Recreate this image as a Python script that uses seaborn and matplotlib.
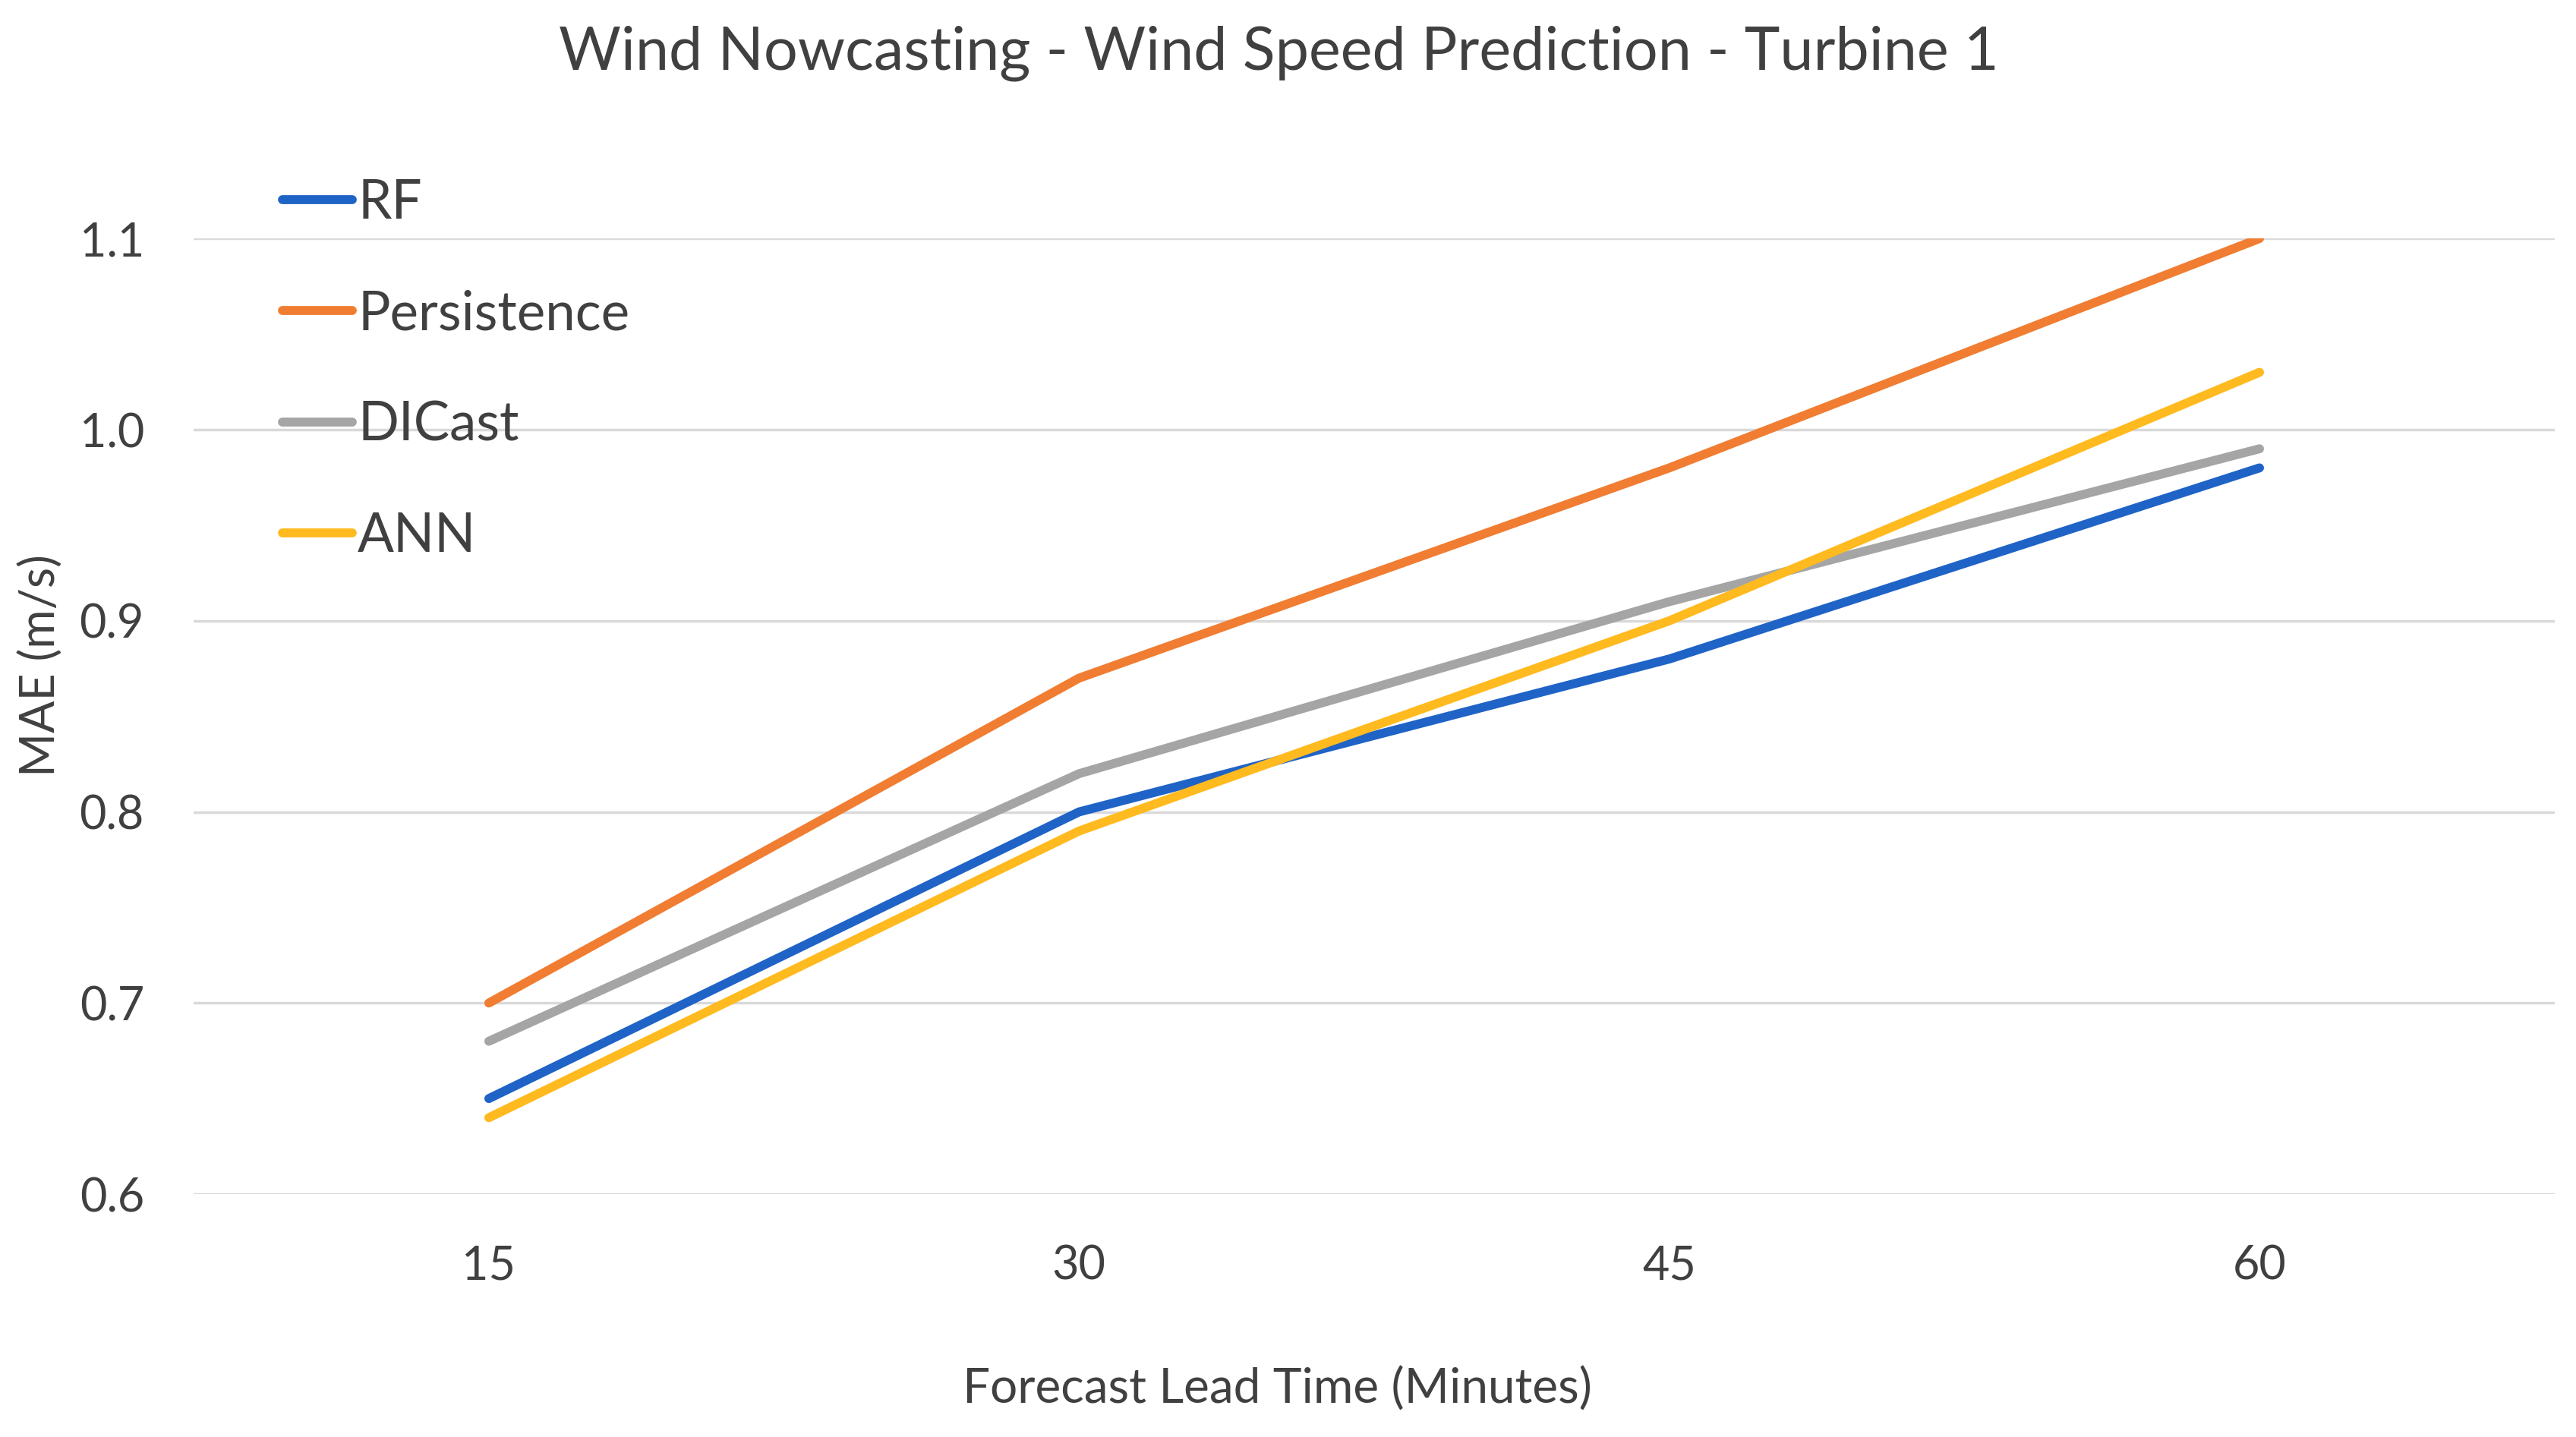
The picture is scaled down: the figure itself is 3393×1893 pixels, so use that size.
import pandas as pd
import matplotlib.pyplot as plt
import seaborn as sns

lead_times = ["15", "30", "45", "60"]
rf = [0.65, 0.80, 0.88, 0.98]
persistence = [0.70, 0.87, 0.98, 1.10]
dicast = [0.68, 0.82, 0.91, 0.99]
ann = [0.64, 0.79, 0.90, 1.03]
y_ticks = [0.6, 0.7, 0.8, 0.9, 1.0, 1.1]

models = ["RF", "Persistence", "DICast", "ANN"]
colors = ["#1F63C6", "#F07D32", "#A5A5A5", "#FFBA1F"]

rows = []
for name, vals in zip(models, [rf, persistence, dicast, ann]):
    for t, v in zip(lead_times, vals):
        rows.append({"Lead": t, "MAE": v, "Model": name})
df = pd.DataFrame(rows)

sns.set_theme(style="white")
plt.rcParams["font.family"] = ["Lato", "DejaVu Sans"]
text_col = "#404040"

fig = plt.figure(figsize=(33.93, 18.93), dpi=100)
ax = fig.add_axes([0.0752, 0.169, 0.9165, 0.665])

sns.lineplot(data=df, x="Lead", y="MAE", hue="Model", hue_order=models,
             palette=colors, linewidth=8.5, sort=False, ax=ax,
             solid_capstyle="round", legend=False)

ax.set_xlim(-0.5, 3.5)
ax.set_ylim(0.6, 1.1)
ax.set_yticks(y_ticks)
ax.set_yticklabels([f"{v:.1f}" for v in y_ticks])
ax.set_xticks(range(len(lead_times)))
ax.set_xticklabels(lead_times)
ax.tick_params(axis="both", labelsize=44, colors=text_col, length=0)
ax.tick_params(axis="x", pad=48)
ax.tick_params(axis="y", pad=47)
ax.grid(axis="y", color="#D9D9D9", linewidth=2.5)
ax.grid(axis="x", visible=False)
ax.set_axisbelow(True)
for s in ax.spines.values():
    s.set_visible(False)
ax.set_xlabel("")
ax.set_ylabel("")

fig.text(0.4963, 0.963, "Wind Nowcasting - Wind Speed Prediction - Turbine 1",
         ha="center", va="center", fontsize=57, color=text_col)
fig.text(0.016, 0.537, "MAE (m/s)", rotation=90, ha="center", va="center",
         fontsize=45, color=text_col)
fig.text(0.496, 0.033, "Forecast Lead Time (Minutes)", ha="center", va="center",
         fontsize=46, color=text_col)

handles = [plt.Line2D([], [], color=c, linewidth=8.5, solid_capstyle="round")
           for c in colors]
leg = fig.legend(handles, models, loc="upper left", bbox_to_anchor=(0.1096, 0.876),
                 frameon=False, fontsize=51, handlelength=1.3, handletextpad=0.1,
                 labelspacing=1.15, borderpad=0, borderaxespad=0)
for t in leg.get_texts():
    t.set_color(text_col)

fig.savefig("out.png", dpi=100, facecolor="white")
